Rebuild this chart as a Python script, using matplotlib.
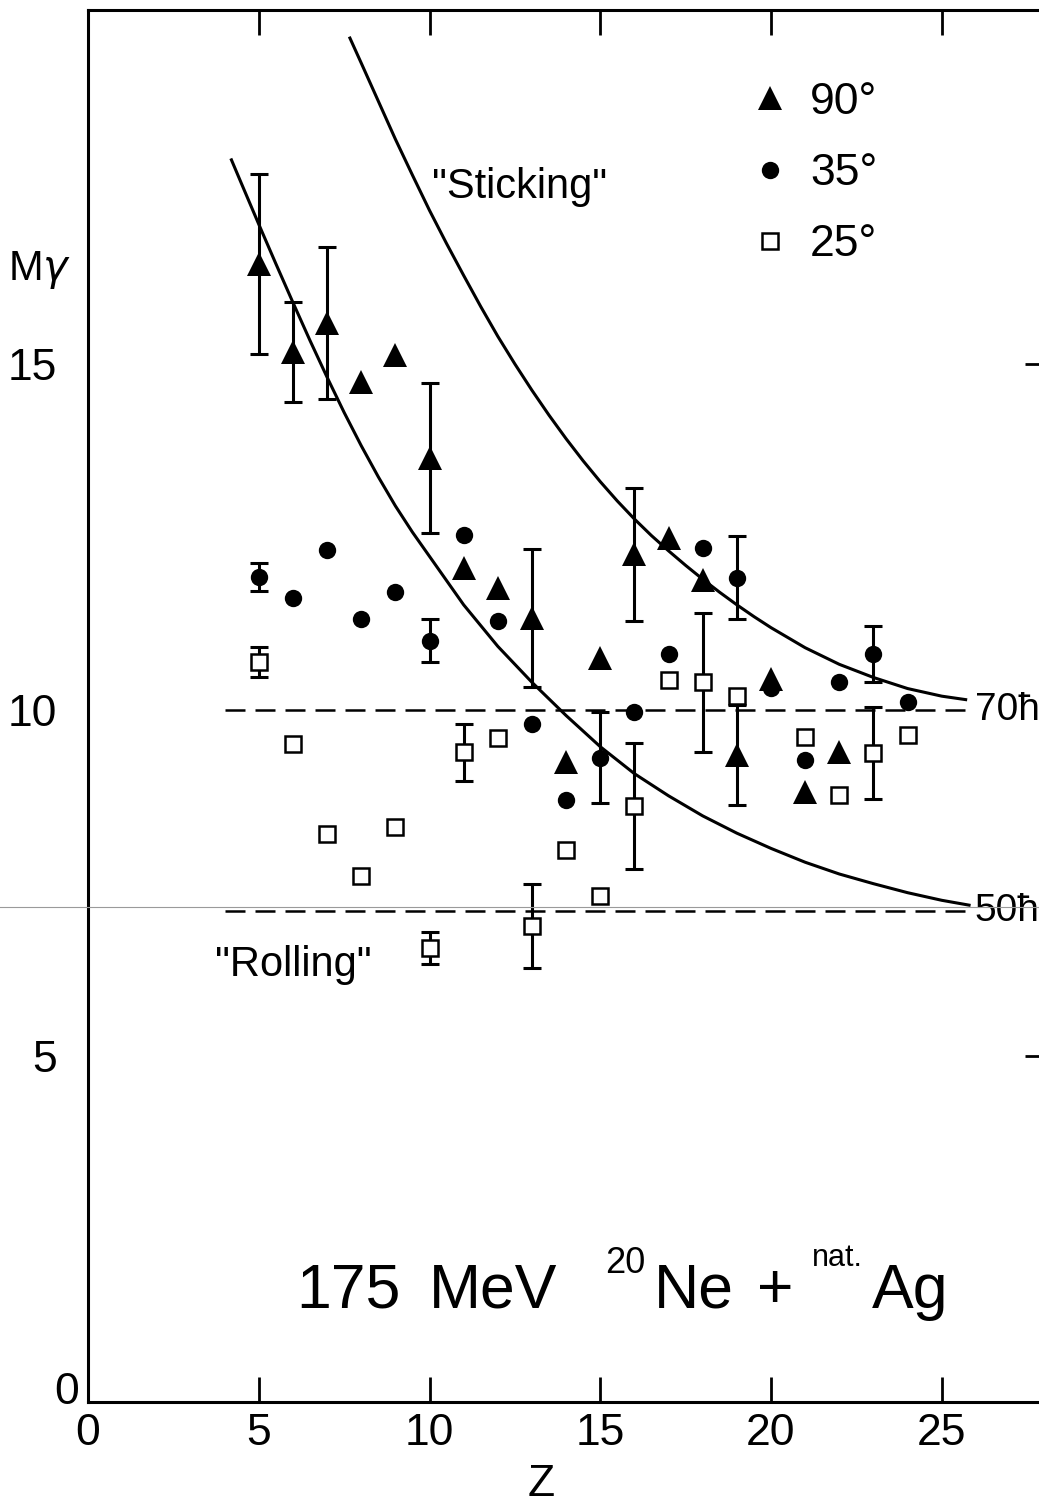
import numpy as np
import matplotlib
matplotlib.use("Agg")
import matplotlib.pyplot as plt
from matplotlib.lines import Line2D
from matplotlib.transforms import ScaledTranslation

plt.rcParams["font.family"] = ["Liberation Sans", "DejaVu Sans"]

# =========================
# DATA
# =========================
z_90 = np.array([5, 6, 7, 8, 9, 10, 11, 12, 13, 14, 15, 16, 17, 18, 19, 20, 21, 22])
m_90 = np.array([16.45, 15.17, 15.59, 14.74, 15.13, 13.64, 12.05, 11.76, 11.33, 9.25,
                 10.75, 12.25, 12.49, 11.88, 9.35, 10.45, 8.82, 9.39])
err_90 = np.array([1.3, 0.72, 1.1, 0, 0, 1.08, 0, 0, 1.0, 0,
                   0, 0.96, 0, 0, 0.72, 0, 0, 0])

z_35 = np.array([5, 6, 7, 8, 9, 10, 11, 12, 13, 14, 15, 16, 17, 18, 19, 20, 21, 22, 23, 24])
m_35 = np.array([11.92, 11.62, 12.31, 11.31, 11.7, 11.0, 12.53, 11.29, 9.8, 8.7,
                 9.31, 9.97, 10.81, 12.34, 11.91, 10.32, 9.28, 10.4, 10.81, 10.12])
err_35 = np.array([0.2, 0, 0, 0, 0, 0.31, 0, 0, 0, 0,
                   0.66, 0, 0, 0, 0.6, 0, 0, 0, 0.41, 0])

z_25 = np.array([5, 6, 7, 8, 9, 10, 11, 12, 13, 14, 15, 16, 17, 18, 19, 21, 22, 23, 24])
m_25 = np.array([10.69, 9.51, 8.21, 7.6, 8.31, 6.56, 9.39, 9.6, 6.88, 7.98,
                 7.31, 8.61, 10.43, 10.4, 10.2, 9.61, 8.77, 9.38, 9.64])
err_25 = np.array([0.22, 0, 0, 0, 0, 0.23, 0.41, 0, 0.61, 0,
                   0, 0.91, 0, 1.0, 0, 0, 0, 0.67, 0])

# "Sticking" curve
stick_z = [7.67, 8.0, 8.5, 9.0, 9.5, 10.0, 10.5, 11.0, 11.5, 12.0, 12.5, 13.0, 13.5,
           14.0, 14.5, 15.0, 15.5, 16.0, 16.5, 17.0, 17.5, 18.0, 18.5, 19.0, 19.5,
           20.0, 21.0, 22.0, 23.0, 24.0, 25.0, 25.7]
stick_m = [19.71, 19.35, 18.8, 18.25, 17.73, 17.22, 16.74, 16.28, 15.83, 15.4, 15.0, 14.62, 14.26,
           13.92, 13.6, 13.3, 13.02, 12.76, 12.52, 12.3, 12.09, 11.89, 11.7, 11.52, 11.35,
           11.19, 10.9, 10.66, 10.47, 10.31, 10.2, 10.15]

# "Rolling" curve
roll_z = [4.2, 4.5, 5.0, 5.5, 6.0, 6.5, 7.0, 7.5, 8.0, 8.5, 9.0, 9.5, 10.0, 11.0, 12.0,
          13.0, 14.0, 15.0, 16.0, 17.0, 18.0, 19.0, 20.0, 21.0, 22.0, 23.0, 24.0, 25.0, 25.8]
roll_m = [17.95, 17.6, 17.02, 16.45, 15.89, 15.34, 14.81, 14.3, 13.82, 13.37, 12.95, 12.57, 12.22,
          11.52, 10.92, 10.4, 9.92, 9.47, 9.08, 8.76, 8.47, 8.22, 8.0, 7.8, 7.63, 7.49, 7.36,
          7.25, 7.18]

# limits for 70 hbar and 50 hbar
limit_m = [10.0, 7.1]
limit_labels = ["70ħ", "50ħ"]
limit_z = [4.0, 25.9]

x_ticks = [0, 5, 10, 15, 20, 25]
y_ticks = [0, 5, 10, 15]

W, H = 1039, 1502


def fx(px):
    return px / W


def fy(py):
    return 1 - py / H


# =========================
# FIGURE
# =========================
fig = plt.figure(figsize=(W / 100, H / 100), dpi=100)
ax = fig.add_axes([fx(88), fy(1402), (1050 - 88) / W, (1402 - 10) / H])
ax.set_xlim(0, (1050 - 88) / 34.15)
ax.set_ylim(0, (1402 - 10) / 69.2)

# curves
ax.plot(stick_z, stick_m, color="k", lw=2.2, zorder=2)
ax.plot(roll_z, roll_m, color="k", lw=2.2, zorder=2)
for m in limit_m:
    ax.plot(limit_z, [m, m], color="k", lw=1.8, dashes=(8, 4), zorder=1)

# error bars
for z, m, e in [(z_90, m_90, err_90), (z_35, m_35, err_35), (z_25, m_25, err_25)]:
    k = e > 0
    ax.errorbar(z[k], m[k], yerr=e[k], fmt="none", ecolor="k", elinewidth=2.2,
                capsize=6.5, capthick=2.2, zorder=3)

# markers
ax.plot(z_90, m_90, "^", color="k", ms=17.5, mew=0, zorder=4, label="90°")
ax.plot(z_35, m_35, "o", color="k", ms=12.5, mew=0, zorder=4, label="35°")
ax.plot(z_25, m_25, "s", mfc="white", mec="k", ms=11.2, mew=1.8, zorder=4, label="25°")

leg = ax.legend(loc="upper left", bbox_to_anchor=(fx(752), fy(82)),
                bbox_transform=fig.transFigure, frameon=False, numpoints=1,
                fontsize=32, handlelength=0.8, handletextpad=0.51,
                labelspacing=0.68, borderpad=0, borderaxespad=0)

# =========================
# AXES STYLE
# =========================
for s in ax.spines.values():
    s.set_linewidth(2.2)

ax.set_xticks(x_ticks)
ax.set_xticklabels([str(t) for t in x_ticks])
ax.set_yticks(y_ticks)
ax.set_yticklabels([str(t) for t in y_ticks])
ax.tick_params(axis="x", direction="in", length=18, width=2, top=True,
               labelsize=32, pad=8)
ax.tick_params(axis="y", direction="in", length=18, width=2, right=True,
               labelsize=32, pad=22)
for t in ax.yaxis.get_major_ticks():
    t.tick1line.set_visible(False)
ax.yaxis.get_major_ticks()[2].tick2line.set_visible(False)

lbl0 = ax.get_yticklabels()[0]
lbl0.set_transform(lbl0.get_transform() + ScaledTranslation(0.22, 0.14, fig.dpi_scale_trans))

# axis labels
fig.text(fx(541), fy(1484), "Z", ha="center", va="center", fontsize=32)
fig.text(fx(8), fy(270), r"M$\gamma$", ha="left", va="center", fontsize=30)

# annotations
ax.text(10.07, 17.56, '"Sticking"', ha="left", va="center", fontsize=30)
ax.text(3.72, 6.32, '"Rolling"', ha="left", va="center", fontsize=30)
for m, s in zip(limit_m, limit_labels):
    ax.text(25.97, m, s, ha="left", va="center", fontsize=28, clip_on=False)

# reaction title
big = 45
fig.text(fx(296), fy(1308), "175", fontsize=big, va="baseline")
fig.text(fx(429), fy(1308), "MeV", fontsize=big, va="baseline")
fig.text(fx(605), fy(1273), "20", fontsize=26, va="baseline")
fig.text(fx(654), fy(1308), "Ne", fontsize=big, va="baseline")
fig.text(fx(757), fy(1308), "+", fontsize=big, va="baseline")
fig.text(fx(812), fy(1266), "nat.", fontsize=22, va="baseline")
fig.text(fx(872), fy(1308), "Ag", fontsize=big, va="baseline")

# faint scan line across the page
fig.add_artist(Line2D([0, 1], [fy(907), fy(907)], transform=fig.transFigure,
                      color="#9a9a9a", lw=0.8))

fig.savefig("out.png", dpi=100)
